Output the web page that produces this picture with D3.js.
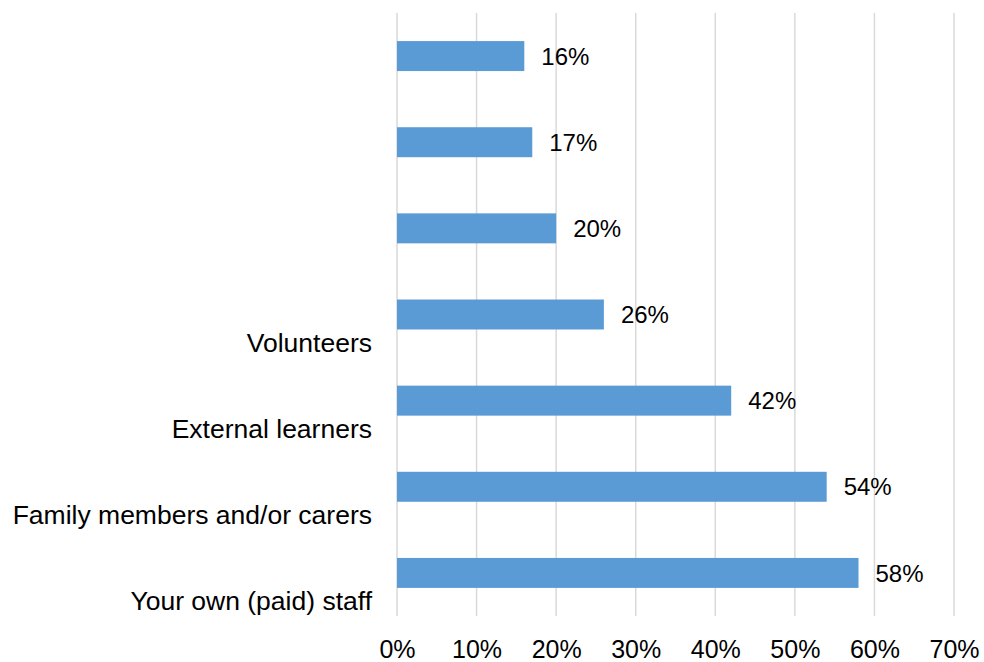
<!DOCTYPE html>
<html>
<head>
<meta charset="utf-8">
<script src="https://cdn.jsdelivr.net/npm/d3@7"></script>
<style>
  body { margin: 0; background: #fff; }
  text { font-family: "Liberation Sans", Arial, sans-serif; fill: #000; }
</style>
</head>
<body>
<div id="chart"></div>
<script>
// top to bottom, as in the picture (top three have no label)
const categories = ["", "", "", "Volunteers", "External learners", "Family members and/or carers", "Your own (paid) staff"];
const values = [16, 17, 20, 26, 42, 54, 58];
const ticks = [0, 10, 20, 30, 40, 50, 60, 70];

var margin = {top: 13, right: 30, bottom: 46, left: 397},
    width = 984 - margin.left - margin.right,
    height = 662 - margin.top - margin.bottom;

var svg = d3.select("#chart")
  .append("svg")
  .attr("width", 984)
  .attr("height", 662)
  .append("g")
  .attr("transform", "translate(" + margin.left + "," + margin.top + ")");

var x = d3.scaleLinear()
  .domain([0, 70])
  .range([0, 557]);

var y = d3.scaleBand()
  .domain(d3.range(categories.length))
  .range([0, height])
  .paddingInner(0.652)
  .paddingOuter(0.326);

// gridlines
svg.append("g")
  .selectAll("line")
  .data(ticks)
  .enter().append("line")
    .attr("x1", d => x(d))
    .attr("x2", d => x(d))
    .attr("y1", 0)
    .attr("y2", height)
    .attr("stroke", "#d9d9d9")
    .attr("stroke-width", 1.5);

// x tick labels
var xAxis = svg.append("g")
  .attr("transform", "translate(0," + height + ")")
  .call(d3.axisBottom(x).tickValues(ticks).tickFormat(d => d + "%").tickSize(0).tickPadding(0));
xAxis.select(".domain").remove();
xAxis.selectAll("text")
  .attr("y", 0)
  .attr("dy", 0)
  .attr("transform", "translate(0,42)")
  .style("font-size", "25px")
  .style("font-family", "Liberation Sans, Arial, sans-serif")
  .attr("fill", "#000");

// bars
svg.selectAll("rect.bar")
  .data(values)
  .enter().append("rect")
    .attr("class", "bar")
    .attr("x", x(0))
    .attr("y", (d, i) => y(i))
    .attr("width", d => x(d) - x(0))
    .attr("height", y.bandwidth())
    .attr("fill", "#5b9bd5");

// value labels
svg.selectAll("text.val")
  .data(values)
  .enter().append("text")
    .attr("class", "val")
    .attr("x", d => x(d) + 17)
    .attr("y", (d, i) => y(i) + y.bandwidth() / 2)
    .attr("dy", "0.36em")
    .style("font-size", "24px")
    .text(d => d + "%");

// category labels sit below each bar
svg.selectAll("text.cat")
  .data(categories)
  .enter().append("text")
    .attr("class", "cat")
    .attr("text-anchor", "end")
    .attr("x", -25)
    .attr("y", (d, i) => y(i) + y.bandwidth() / 2 + 37)
    .style("font-size", "26.5px")
    .text(d => d);
</script>
</body>
</html>
